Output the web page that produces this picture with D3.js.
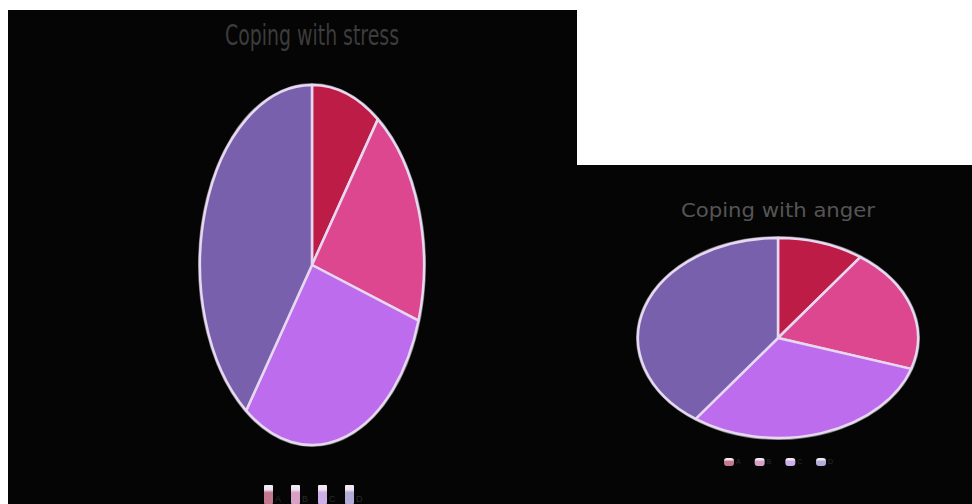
<!DOCTYPE html>
<html><head><meta charset="utf-8">
<script src="https://cdn.jsdelivr.net/npm/d3@7"></script>
<style>html,body{margin:0;padding:0;background:#fff;}svg{display:block;}</style>
</head><body>
<script>
const categories = ["A", "B", "C", "D"];
const stressValues = [10, 20, 30, 40];
const angerValues = [10, 20, 30, 40];
const sliceColors = ["#bc1c46", "#dc4790", "#bc6cec", "#7860ac"];
const swatchColors = ["#c47890", "#d8a0c4", "#ccaee8", "#b4acd8"];
const titles = ["Coping with stress", "Coping with anger"];

const W = 972, H = 504;
const svg = d3.select("body").append("svg").attr("width", W).attr("height", H);

// panels
svg.append("rect").attr("x", 8).attr("y", 10).attr("width", 569).attr("height", 494).attr("fill", "#050505");
svg.append("rect").attr("x", 577).attr("y", 165).attr("width", 395).attr("height", 339).attr("fill", "#050505");

const defs = svg.append("defs");
swatchColors.forEach((c, i) => {
  const g = defs.append("linearGradient").attr("id", "sw" + i).attr("x1", 0).attr("y1", 0).attr("x2", 0).attr("y2", 1);
  g.append("stop").attr("offset", "0%").attr("stop-color", "#f4eef4");
  g.append("stop").attr("offset", "25%").attr("stop-color", "#ece2ec");
  g.append("stop").attr("offset", "40%").attr("stop-color", c);
  g.append("stop").attr("offset", "100%").attr("stop-color", c);
});

function drawPie(cfg) {
  const pie = d3.pie().sort(null).value(d => d)(cfg.values);
  const arc = d3.arc().innerRadius(0).outerRadius(1);
  const g = svg.append("g").attr("transform", `translate(${cfg.cx},${cfg.cy}) scale(${cfg.rx},${cfg.ry})`);
  g.append("ellipse").attr("rx", 1).attr("ry", 1).attr("fill", "none")
    .attr("stroke", "#777").attr("stroke-width", 4).attr("vector-effect", "non-scaling-stroke");
  g.selectAll("path").data(pie).join("path")
    .attr("d", arc)
    .attr("fill", (d, i) => sliceColors[i])
    .attr("stroke", "#e6d8f0")
    .attr("stroke-width", cfg.sw)
    .attr("stroke-linejoin", "round")
    .attr("vector-effect", "non-scaling-stroke");

  svg.append("text").attr("x", cfg.cx).attr("y", cfg.ty)
    .attr("text-anchor", "middle")
    .attr("font-family", "'Liberation Sans Narrow', 'DejaVu Sans Condensed', sans-serif")
    .attr("font-size", cfg.tfs)
    .attr("fill", cfg.tcol)
    .attr("textLength", cfg.tlen).attr("lengthAdjust", "spacingAndGlyphs")
    .text(cfg.title);

  const lx = d3.scalePoint().domain(categories).range([cfg.lx0, cfg.lx1]);
  const lg = svg.append("g");
  categories.forEach((c, i) => {
    lg.append("rect").attr("x", lx(c)).attr("y", cfg.ly).attr("width", cfg.lw).attr("height", cfg.lh)
      .attr("rx", cfg.lr).attr("fill", `url(#sw${i})`);
    lg.append("text").attr("x", lx(c) + cfg.lw + 2).attr("y", cfg.ly + cfg.lh - 2)
      .attr("font-family", "'Liberation Sans', sans-serif").attr("font-size", cfg.lfs)
      .attr("fill", "#2a2a2a").text(c);
  });
}

drawPie({values: stressValues, cx: 312, cy: 265, rx: 112, ry: 180, sw: 2.5,
  title: titles[0], ty: 45, tfs: 28, tlen: 174, tcol: "#3c3c3c",
  lx0: 264, lx1: 345, ly: 485, lw: 9, lh: 19, lr: 1, lfs: 9});
drawPie({values: angerValues, cx: 778, cy: 338, rx: 140, ry: 100, sw: 2.5,
  title: titles[1], ty: 217, tfs: 19, tlen: 194, tcol: "#555",
  lx0: 724, lx1: 816, ly: 458, lw: 10, lh: 8, lr: 3, lfs: 7});
</script>
</body></html>
